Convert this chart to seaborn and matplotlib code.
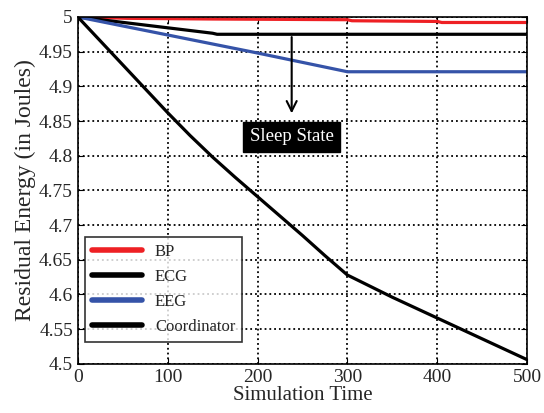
import pandas as pd
import matplotlib.pyplot as plt
import seaborn as sns
from matplotlib.ticker import FormatStrFormatter

sns.set_style('ticks')
plt.rcParams['font.family'] = ['Liberation Serif', 'DejaVu Serif']
plt.rcParams['xtick.direction'] = 'in'
plt.rcParams['ytick.direction'] = 'in'
plt.rcParams['axes.grid'] = True
plt.rcParams['grid.color'] = 'black'
plt.rcParams['grid.linestyle'] = ':'
plt.rcParams['grid.linewidth'] = 1.3

# values
bp_t = [0, 55, 150, 300, 305, 400, 405, 500]
bp_e = [5.0, 4.998, 4.997, 4.996, 4.9945, 4.9935, 4.992, 4.992]
ecg_t = [0, 150, 155, 500]
ecg_e = [5.0, 4.9765, 4.975, 4.975]
eeg_t = [0, 100, 200, 300, 500]
eeg_e = [5.0, 4.974, 4.948, 4.921, 4.921]
coord_t = [0, 50, 100, 125, 150, 175, 200, 225, 250, 275, 300, 350, 400, 450, 500]
coord_e = [5.0, 4.931, 4.862, 4.829, 4.798, 4.769, 4.741, 4.713, 4.685, 4.656,
           4.628, 4.596, 4.566, 4.536, 4.506]

frames = []
for name, t, e in [('BP', bp_t, bp_e), ('ECG', ecg_t, ecg_e),
                   ('EEG', eeg_t, eeg_e), ('Coordinator', coord_t, coord_e)]:
    frames.append(pd.DataFrame({'time': t, 'energy': e, 'node': name}))
data = pd.concat(frames, ignore_index=True)

palette = {'BP': '#ee2024', 'ECG': 'black', 'EEG': '#3553a8', 'Coordinator': 'black'}

fig = plt.figure(figsize=(5.44, 4.13), dpi=100)
ax = fig.add_axes([0.143, 0.119, 0.826, 0.840])
sns.lineplot(data=data, x='time', y='energy', hue='node', palette=palette,
             linewidth=2.3, ax=ax, sort=False, estimator=None)

ax.set_xlim(0, 500)
ax.set_ylim(4.5, 5.0)
ax.set_xticks(range(0, 501, 100))
ax.set_yticks([4.5 + 0.05 * i for i in range(11)])
ax.yaxis.set_major_formatter(FormatStrFormatter('%g'))
ax.tick_params(labelsize=14, length=4, top=True, right=True, color='black')
for s in ax.spines.values():
    s.set_linewidth(1.2)
    s.set_color('black')

ax.set_xlabel('Simulation Time', fontsize=15, labelpad=0)
ax.set_ylabel('Residual Energy (in Joules)', fontsize=17, labelpad=2)

# sleep state annotation
ax.annotate('', xy=(238, 4.857), xytext=(238, 4.975),
            arrowprops=dict(arrowstyle='->', color='black', lw=1.5, mutation_scale=18))
ax.text(238, 4.827, 'Sleep State', ha='center', va='center', color='white',
        fontsize=13.5, bbox=dict(facecolor='black', edgecolor='black', boxstyle='square,pad=0.35'))

leg = ax.legend(loc='lower left', fontsize=12, frameon=True, fancybox=False,
                edgecolor='black', handlelength=3.0, borderaxespad=0,
                labelspacing=0.55, bbox_to_anchor=(0.016, 0.063))
leg.get_frame().set_linewidth(1.2)
for line in leg.get_lines():
    line.set_linewidth(4)

ax.grid(True, which='major', color='black', linestyle=':', linewidth=1.3)

plt.savefig('out.png', dpi=100)
